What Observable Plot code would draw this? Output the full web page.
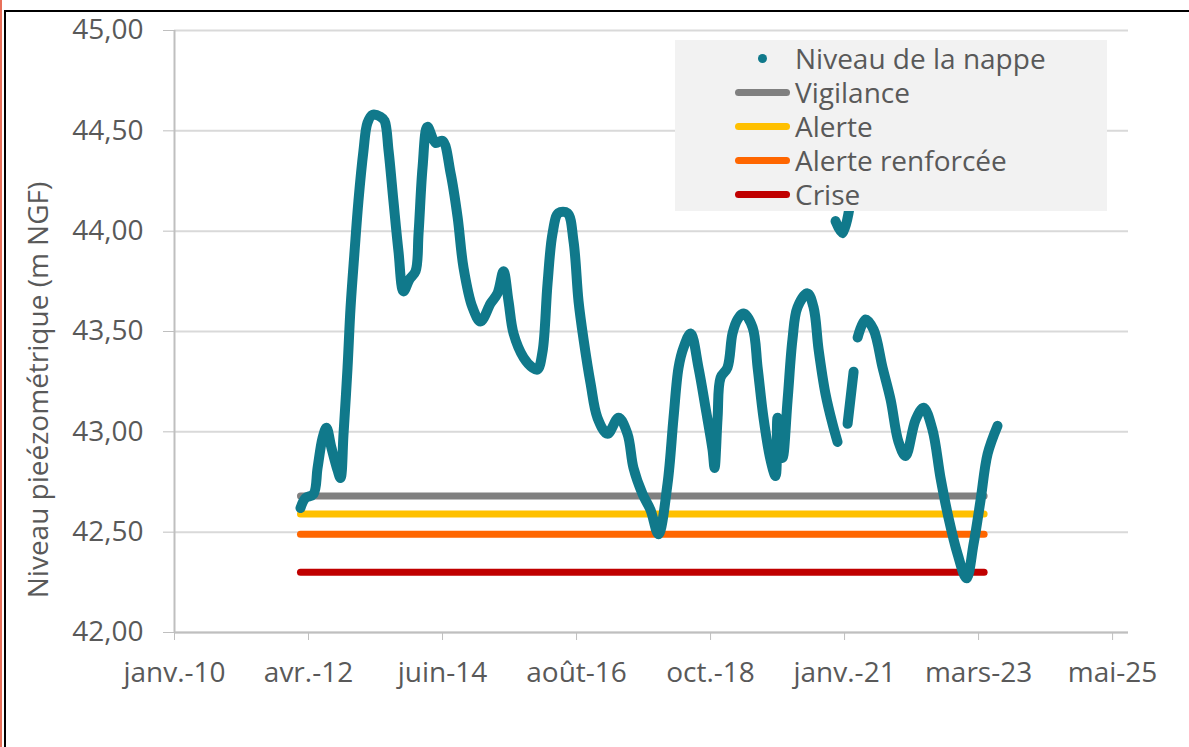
<!DOCTYPE html>
<html><head><meta charset="utf-8">
<script src="https://cdn.jsdelivr.net/npm/d3@7"></script>
<script src="https://cdn.jsdelivr.net/npm/@observablehq/plot@0.6"></script>
<style>
html,body{margin:0;padding:0;background:#fff;}
body{width:1189px;height:747px;position:relative;overflow:hidden;font-family:"Open Sans",sans-serif;color:#595959;}
#chart{position:absolute;left:0;top:0;}
.frameR{position:absolute;left:0;top:0;width:2px;height:747px;background:#e8705a;}
.frameB{position:absolute;left:4px;top:10px;width:1190px;height:740px;border-top:2px solid #000;border-left:2px solid #000;}
#ytitle{position:absolute;left:37px;top:390px;transform:translate(-50%,-50%) rotate(-90deg);white-space:nowrap;font-size:28px;line-height:1;}
#legend{position:absolute;left:675px;top:40px;width:432px;height:171px;background:#f2f2f2;}
.item{position:absolute;left:0;height:34px;width:432px;}
.item span.t{position:absolute;left:120px;top:50%;transform:translateY(-50%);font-size:28px;white-space:nowrap;line-height:1;}
.item .ln{position:absolute;left:60px;top:50%;width:55px;height:7px;margin-top:-3px;border-radius:4px;}
.item .dot{position:absolute;left:83px;top:50%;width:9px;height:9px;margin-top:-4px;border-radius:50%;}
</style></head>
<body>
<div class="frameR"></div>
<div class="frameB"></div>
<div id="chart"></div>
<div id="ytitle"></div>
<div id="legend"></div>
<script>
// ---- axes ----
const xDomain = ["2010-01-23", "2025-08-27"];
const xTickDates = ["2010-01-23","2012-04-02","2014-06-11","2016-08-19","2018-10-28","2021-01-05","2023-03-16","2025-05-24"];
const xTickLabels = ["janv.-10","avr.-12","juin-14","août-16","oct.-18","janv.-21","mars-23","mai-25"];
const yTicks = [42, 42.5, 43, 43.5, 44, 44.5, 45];
const yTickLabels = ["42,00","42,50","43,00","43,50","44,00","44,50","45,00"];
const yTitle = "Niveau pieézométrique (m NGF)";

// ---- series: Niveau de la nappe ----
const seriesName = "Niveau de la nappe";
const nappeDates = [
"2012-02-14","2012-03-15","2012-05-02","2012-05-26","2012-06-25","2012-07-18","2012-08-17","2012-09-22","2012-10-10","2012-10-28",
"2012-11-21","2012-12-09","2013-01-02","2013-01-25","2013-02-24","2013-03-20","2013-04-19","2013-06-06","2013-06-30","2013-07-24",
"2013-08-22","2013-09-21","2013-10-21","2013-11-26","2014-01-01","2014-01-19","2014-02-12","2014-03-13","2014-04-30","2014-06-11",
"2014-07-29","2014-09-09","2014-10-14","2014-12-07","2015-01-24","2015-03-25","2015-05-05","2015-06-10","2015-07-10","2015-08-09",
"2015-10-08","2015-11-30","2015-12-30","2016-01-29","2016-02-28","2016-03-29","2016-05-03","2016-06-26","2016-08-01","2016-08-31",
"2016-09-30","2016-11-11","2016-12-22","2017-02-20","2017-04-27","2017-06-19","2017-07-25","2017-09-17","2017-11-04","2017-12-21",
"2018-02-13","2018-03-21","2018-04-20","2018-05-20","2018-07-01","2018-08-17","2018-09-28","2018-11-09","2018-11-21","2018-12-09",
"2018-12-27","2019-02-06","2019-03-08","2019-04-07","2019-05-13","2019-07-06","2019-08-05","2019-09-09","2019-10-21","2019-11-20",
"2019-12-02","2020-01-01","2020-01-31","2020-02-29","2020-03-30","2020-05-29","2020-07-04","2020-08-03","2020-09-13","2020-10-25",
"2020-11-24",
"2020-11-12","2020-12-24","2021-02-04",
"2021-01-23","2021-02-28",
"2021-03-24","2021-05-10","2021-06-27","2021-08-20","2021-10-07","2021-11-23","2022-01-04","2022-03-05","2022-04-22","2022-06-14",
"2022-08-01","2022-09-18","2022-11-11","2023-01-03","2023-02-14","2023-03-28","2023-05-09","2023-07-07"
];
const nappeValues = [
42.62,42.67,42.69,42.82,42.97,43.02,42.92,42.81,42.77,42.99,
43.32,43.62,43.90,44.15,44.40,44.54,44.58,44.57,44.55,44.40,
44.15,43.90,43.70,43.76,43.80,43.99,44.32,44.52,44.44,44.45,
44.29,44.07,43.82,43.62,43.55,43.64,43.69,43.80,43.65,43.49,
43.37,43.32,43.31,43.40,43.74,43.99,44.09,44.09,43.95,43.65,
43.46,43.24,43.07,42.99,43.07,42.99,42.82,42.69,42.61,42.49,
42.74,43.07,43.32,43.42,43.49,43.32,43.12,42.91,42.82,43.07,
43.27,43.32,43.49,43.56,43.59,43.52,43.32,43.07,42.86,42.78,
43.07,42.87,43.16,43.46,43.62,43.69,43.62,43.41,43.19,43.04,
42.95,
44.05,43.99,44.12,
43.04,43.30,
43.47,43.56,43.51,43.32,43.16,42.95,42.88,43.06,43.12,43.01,
42.77,42.57,42.39,42.27,42.44,42.66,42.89,43.03
];
const nappeSegments = [
0,0,0,0,0,0,0,0,0,0, 0,0,0,0,0,0,0,0,0,0, 0,0,0,0,0,0,0,0,0,0, 0,0,0,0,0,0,0,0,0,0,
0,0,0,0,0,0,0,0,0,0, 0,0,0,0,0,0,0,0,0,0, 0,0,0,0,0,0,0,0,0,0, 0,0,0,0,0,0,0,0,0,0,
0,0,0,0,0,0,0,0,0,0, 0,
1,1,1,
2,2,
3,3,3,3,3,3,3,3,3,3, 3,3,3,3,3,3,3,3
];
const nappeColor = "#10798b";

// ---- thresholds ----
const seuilNames = ["Vigilance","Alerte","Alerte renforcée","Crise"];
const seuilValues = [42.68, 42.59, 42.49, 42.30];
const seuilColors = ["#808080","#ffc000","#ff6600","#c00000"];
const seuilStart = "2012-02-14";
const seuilEnd = "2023-04-18";

// ---- build ----
const parse = d3.utcParse("%Y-%m-%d");
const nappe = nappeDates.map((d, i) => ({date: parse(d), value: nappeValues[i], seg: nappeSegments[i]}));
const seuils = seuilNames.map((n, i) => ({name: n, value: seuilValues[i], color: seuilColors[i], x1: parse(seuilStart), x2: parse(seuilEnd)}));
const xTicks = xTickDates.map(parse);
const xLabelMap = new Map(xTicks.map((d, i) => [+d, xTickLabels[i]]));
const yLabelMap = new Map(yTicks.map((d, i) => [d, yTickLabels[i]]));

const chart = Plot.plot({
  width: 1189,
  height: 747,
  marginLeft: 174,
  marginRight: 61,
  marginTop: 30,
  marginBottom: 115,
  style: {fontFamily: "Open Sans, sans-serif", background: "transparent", color: "#595959", overflow: "visible"},
  x: {type: "utc", domain: xDomain.map(parse)},
  y: {domain: [42, 45]},
  marks: [
    Plot.gridY(yTicks, {stroke: "#d9d9d9", strokeOpacity: 1, strokeWidth: 2}),
    Plot.ruleX([parse(xDomain[0])], {stroke: "#bfbfbf", strokeWidth: 2}),
    Plot.ruleY([42], {stroke: "#bfbfbf", strokeWidth: 2}),
    Plot.axisY(yTicks, {tickSize: 11, tickPadding: 20, stroke: "#bfbfbf", fill: "#595959", fontSize: 28, tickFormat: d => yLabelMap.get(d), label: null}),
    Plot.axisX(xTicks, {tickSize: 8, tickPadding: 22, stroke: "#bfbfbf", fill: "#595959", fontSize: 28, tickFormat: d => xLabelMap.get(+d), label: null}),
    Plot.link(seuils, {x1: "x1", x2: "x2", y1: "value", y2: "value", stroke: "color", strokeWidth: 7, strokeLinecap: "round"}),
    Plot.line(nappe, {x: "date", y: "value", z: "seg", stroke: nappeColor, strokeWidth: 10, strokeLinecap: "round", strokeLinejoin: "round", curve: "catmull-rom"})
  ]
});
document.getElementById("chart").appendChild(chart);

document.getElementById("ytitle").textContent = yTitle;

// legend
const legend = document.getElementById("legend");
const entries = [{name: seriesName, color: nappeColor, type: "dot"}].concat(seuils.map(s => ({name: s.name, color: s.color, type: "line"})));
const centers = [18, 52, 86, 120, 154];
entries.forEach((e, i) => {
  const it = document.createElement("div");
  it.className = "item";
  it.style.top = (centers[i] - 17) + "px";
  const mk = document.createElement("div");
  mk.className = e.type === "dot" ? "dot" : "ln";
  mk.style.background = e.color;
  it.appendChild(mk);
  const t = document.createElement("span");
  t.className = "t";
  t.textContent = e.name;
  it.appendChild(t);
  legend.appendChild(it);
});
</script>
</body></html>
